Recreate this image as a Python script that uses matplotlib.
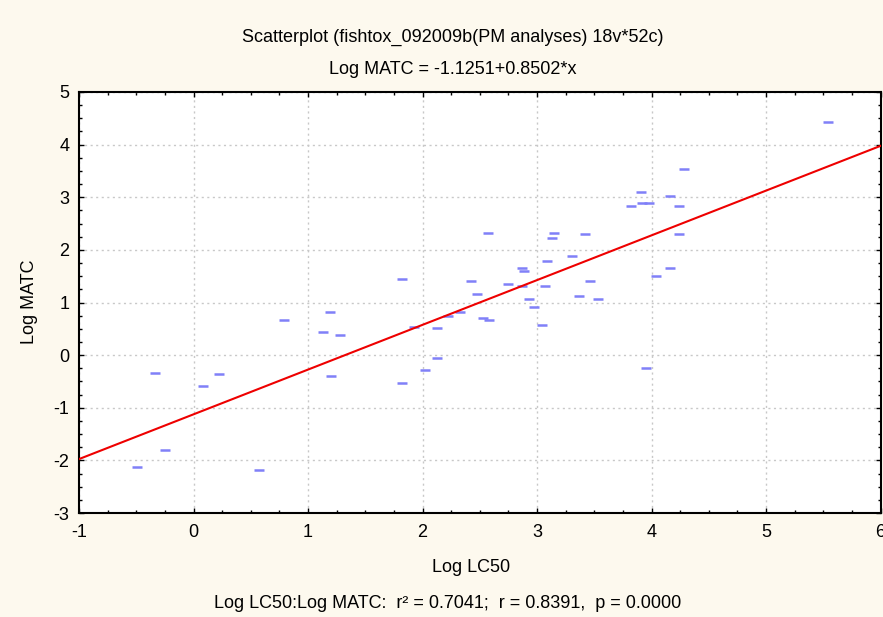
import matplotlib
matplotlib.use("Agg")
import matplotlib.pyplot as plt
from matplotlib.ticker import MultipleLocator

plt.rcParams['font.family'] = ['Liberation Sans', 'DejaVu Sans']
plt.rcParams['axes.unicode_minus'] = False

# Data
log_lc50 = [-0.336, 0.086, 0.223, 0.788, 1.19, 1.131, 1.28, 1.20, -0.246, -0.493, 0.575,
            2.57, 3.15, 3.13, 3.42, 3.306, 3.09, 2.87, 2.89, 1.82, 2.42, 3.46, 2.75, 2.87,
            3.07, 2.48, 2.93, 3.37, 3.53, 2.97, 2.33, 2.22, 2.53, 2.58, 3.04, 1.926, 2.13,
            2.13, 2.02, 1.82,
            5.54, 4.28, 3.91, 4.16, 3.82, 3.92, 3.98, 4.24, 4.24, 4.04, 4.16, 3.95]
log_matc = [-0.335, -0.59, -0.354, 0.673, 0.825, 0.437, 0.39, -0.39, -1.80, -2.12, -2.19,
            2.33, 2.33, 2.22, 2.31, 1.88, 1.79, 1.65, 1.60, 1.45, 1.41, 1.41, 1.35, 1.31,
            1.31, 1.16, 1.07, 1.12, 1.07, 0.92, 0.82, 0.74, 0.71, 0.67, 0.58, 0.54, 0.52,
            -0.06, -0.29, -0.525,
            4.43, 3.54, 3.10, 3.03, 2.84, 2.90, 2.90, 2.84, 2.31, 1.50, 1.65, -0.25]

intercept = -1.1251
slope = 0.8502
x_range = [-1, 6]
x_ticks = [-1, 0, 1, 2, 3, 4, 5, 6]
y_ticks = [-3, -2, -1, 0, 1, 2, 3, 4, 5]

bg = '#FDF9EE'
fs = 13
fig = plt.figure(figsize=(8.83, 6.17), dpi=100, facecolor=bg)
ax = fig.add_axes([79/883, 1 - 513/617, (880.5 - 79)/883, (513 - 92)/617])
ax.set_facecolor('white')

ax.plot(log_lc50, log_matc, linestyle='none', marker='_', markersize=7.5,
        markeredgewidth=1.8, color='#8080F8', zorder=3)

fit_y = [intercept + slope * v for v in x_range]
ax.plot(x_range, fit_y, color='#EE0000', linewidth=1.5, zorder=4)

ax.set_xlim(x_range)
ax.set_ylim(y_ticks[0], y_ticks[-1])
ax.set_xticks(x_ticks)
ax.set_yticks(y_ticks)
ax.xaxis.set_minor_locator(MultipleLocator(0.25))
ax.yaxis.set_minor_locator(MultipleLocator(0.25))
ax.tick_params(which='both', direction='in', top=True, right=True, width=1, colors='black',
               labelsize=fs)
ax.tick_params(which='major', length=3.5)
ax.tick_params(axis='x', which='major', pad=8)
ax.tick_params(axis='y', which='major', pad=7)
ax.tick_params(which='minor', length=2)
for s in ax.spines.values():
    s.set_linewidth(1.5)

ax.grid(True, which='major', color='#C8C8C8', linestyle=(0, (1.5, 2.5)), linewidth=1)
ax.set_axisbelow(True)

ax.set_xlabel('Log LC50', fontsize=fs)
ax.set_ylabel('Log MATC', fontsize=fs)
ax.xaxis.set_label_coords((471 - 79) / 801.5, (513 - 568) / 421)
ax.yaxis.set_label_coords((29 - 79) / 801.5, (513 - 302) / 421)
ax.xaxis.label.set_va('center')
ax.yaxis.label.set_va('center')

fig.text(453/883, 1 - 37/617, 'Scatterplot (fishtox_092009b(PM analyses) 18v*52c)',
         ha='center', va='center', fontsize=fs)
fig.text(453/883, 1 - 70/617, 'Log MATC = -1.1251+0.8502*x', ha='center', va='center', fontsize=fs)
fig.text(448/883, 1 - 603/617, 'Log LC50:Log MATC:  r² = 0.7041;  r = 0.8391,  p = 0.0000',
         ha='center', va='center', fontsize=fs)

fig.savefig('out.png', dpi=100, facecolor=bg)
